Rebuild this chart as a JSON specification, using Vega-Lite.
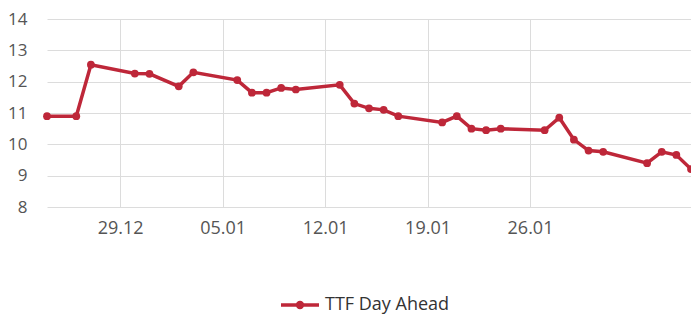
{
  "$schema": "https://vega.github.io/schema/vega-lite/v6.json",
  "width": 644,
  "height": 188,
  "autosize": {"type": "none"},
  "padding": {"left": 47, "top": 19, "right": 0, "bottom": 107},
  "background": "white",
  "config": {
    "view": {"stroke": null},
    "font": "Open Sans",
    "axis": {"gridColor": "#dcdcdc", "gridWidth": 1, "domain": false, "ticks": false, "labelColor": "#555555", "labelFont": "Open Sans", "labelFontSize": 17, "title": null}
  },
  "data": {"values": [
    {"date": "2019-12-24", "price": 10.9, "series": "TTF Day Ahead"},
    {"date": "2019-12-26", "price": 10.9, "series": "TTF Day Ahead"},
    {"date": "2019-12-27", "price": 12.54, "series": "TTF Day Ahead"},
    {"date": "2019-12-30", "price": 12.26, "series": "TTF Day Ahead"},
    {"date": "2019-12-31", "price": 12.25, "series": "TTF Day Ahead"},
    {"date": "2020-01-02", "price": 11.85, "series": "TTF Day Ahead"},
    {"date": "2020-01-03", "price": 12.3, "series": "TTF Day Ahead"},
    {"date": "2020-01-06", "price": 12.05, "series": "TTF Day Ahead"},
    {"date": "2020-01-07", "price": 11.65, "series": "TTF Day Ahead"},
    {"date": "2020-01-08", "price": 11.65, "series": "TTF Day Ahead"},
    {"date": "2020-01-09", "price": 11.8, "series": "TTF Day Ahead"},
    {"date": "2020-01-10", "price": 11.75, "series": "TTF Day Ahead"},
    {"date": "2020-01-13", "price": 11.9, "series": "TTF Day Ahead"},
    {"date": "2020-01-14", "price": 11.3, "series": "TTF Day Ahead"},
    {"date": "2020-01-15", "price": 11.15, "series": "TTF Day Ahead"},
    {"date": "2020-01-16", "price": 11.1, "series": "TTF Day Ahead"},
    {"date": "2020-01-17", "price": 10.9, "series": "TTF Day Ahead"},
    {"date": "2020-01-20", "price": 10.7, "series": "TTF Day Ahead"},
    {"date": "2020-01-21", "price": 10.9, "series": "TTF Day Ahead"},
    {"date": "2020-01-22", "price": 10.5, "series": "TTF Day Ahead"},
    {"date": "2020-01-23", "price": 10.45, "series": "TTF Day Ahead"},
    {"date": "2020-01-24", "price": 10.5, "series": "TTF Day Ahead"},
    {"date": "2020-01-27", "price": 10.45, "series": "TTF Day Ahead"},
    {"date": "2020-01-28", "price": 10.85, "series": "TTF Day Ahead"},
    {"date": "2020-01-29", "price": 10.15, "series": "TTF Day Ahead"},
    {"date": "2020-01-30", "price": 9.8, "series": "TTF Day Ahead"},
    {"date": "2020-01-31", "price": 9.76, "series": "TTF Day Ahead"},
    {"date": "2020-02-03", "price": 9.4, "series": "TTF Day Ahead"},
    {"date": "2020-02-04", "price": 9.76, "series": "TTF Day Ahead"},
    {"date": "2020-02-05", "price": 9.66, "series": "TTF Day Ahead"},
    {"date": "2020-02-06", "price": 9.21, "series": "TTF Day Ahead"}
  ]},
  "mark": {"type": "line", "strokeWidth": 3.5, "point": {"filled": true, "size": 60, "opacity": 1}},
  "encoding": {
    "x": {
      "field": "date", "type": "temporal",
      "scale": {"type": "utc", "domain": [{"year": 2019, "month": 12, "date": 24, "utc": true}, {"year": 2020, "month": 2, "date": 6, "utc": true}]},
      "axis": {
        "values": [
          {"year": 2019, "month": 12, "date": 29, "utc": true},
          {"year": 2020, "month": 1, "date": 5, "utc": true},
          {"year": 2020, "month": 1, "date": 12, "utc": true},
          {"year": 2020, "month": 1, "date": 19, "utc": true},
          {"year": 2020, "month": 1, "date": 26, "utc": true}
        ],
        "labelExpr": "utcFormat(datum.value, '%d.%m')", "labelPadding": 12, "labelFlush": false, "labelFontSize": 18
      }
    },
    "y": {
      "field": "price", "type": "quantitative",
      "scale": {"domain": [8, 14], "nice": false, "zero": false},
      "axis": {"values": [8, 9, 10, 11, 12, 13, 14], "labelPadding": 20}
    },
    "color": {
      "field": "series", "type": "nominal",
      "scale": {"range": ["#be2739"]},
      "legend": {
        "orient": "none", "legendX": 232, "legendY": 265, "title": null,
        "symbolType": "M-1,0L1,0M-0.13,0A0.13,0.13,0,1,0,0.13,0A0.13,0.13,0,1,0,-0.13,0Z",
        "symbolSize": 1444, "symbolStrokeWidth": 3.5,
        "labelFont": "Open Sans", "labelFontSize": 18, "labelColor": "#333333", "labelOffset": 4
      }
    }
  }
}
